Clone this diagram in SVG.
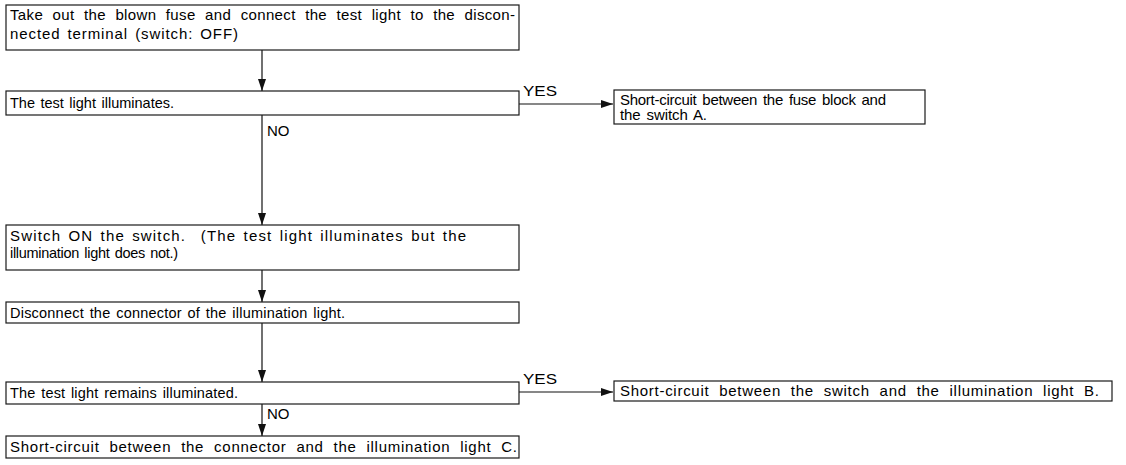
<svg xmlns="http://www.w3.org/2000/svg" width="1126" height="465" viewBox="0 0 1126 465">
<style>
  .box { fill: #ffffff; stroke: #1a1a1a; stroke-width: 1.2; }
  .t { font-family: "Liberation Sans", Arial, Helvetica, sans-serif; font-size: 15px; fill: #000; word-spacing: 2px; }
  .s { font-size: 14.5px; word-spacing: 1.5px; }
  .w { word-spacing: 5px; }
  .pre { white-space: pre; }
  .lbl { font-family: "Liberation Sans", Arial, Helvetica, sans-serif; font-size: 15px; fill: #000; }
  .ln { stroke: #111; stroke-width: 1.2; fill: none; }
</style>
<defs>
  <marker id="ah" viewBox="0 0 12 8" refX="12" refY="4" markerWidth="12" markerHeight="8" markerUnits="userSpaceOnUse" orient="auto">
    <path d="M0,0 L12,4 L0,8 Z" fill="#111"/>
  </marker>
</defs>
<rect width="1126" height="465" fill="#ffffff"/>

<g id="connectors">
  <line class="ln" x1="262" y1="50" x2="262" y2="91" marker-end="url(#ah)"/>
  <line class="ln" x1="519" y1="104" x2="613" y2="104" marker-end="url(#ah)"/>
  <line class="ln" x1="262" y1="115" x2="262" y2="225" marker-end="url(#ah)"/>
  <line class="ln" x1="262" y1="270" x2="262" y2="302" marker-end="url(#ah)"/>
  <line class="ln" x1="262" y1="323" x2="262" y2="382" marker-end="url(#ah)"/>
  <line class="ln" x1="519" y1="392" x2="613" y2="392" marker-end="url(#ah)"/>
  <line class="ln" x1="262" y1="404" x2="262" y2="436" marker-end="url(#ah)"/>
  <text class="lbl" x="523" y="96" textLength="34" lengthAdjust="spacingAndGlyphs">YES</text>
  <text class="lbl" x="267" y="136">NO</text>
  <text class="lbl" x="523" y="384" textLength="34" lengthAdjust="spacingAndGlyphs">YES</text>
  <text class="lbl" x="267" y="419">NO</text>
</g>

<g id="n1">
  <rect class="box" x="6" y="5" width="513" height="45"/>
  <text class="t w" x="10" y="20" textLength="505" lengthAdjust="spacing">Take out the blown fuse and connect the test light to the discon-</text>
  <text class="t" x="10" y="39" textLength="228" lengthAdjust="spacing">nected terminal (switch: OFF)</text>
</g>

<g id="n2">
  <rect class="box" x="6" y="91" width="513" height="24"/>
  <text class="t s" x="10" y="108" textLength="164" lengthAdjust="spacing">The test light illuminates.</text>
</g>

<g id="nA">
  <rect class="box" x="614" y="90" width="311" height="34"/>
  <text class="t" x="620" y="105" textLength="266" lengthAdjust="spacing">Short-circuit between the fuse block and</text>
  <text class="t" x="620" y="120" textLength="87" lengthAdjust="spacing">the switch A.</text>
</g>

<g id="n3">
  <rect class="box" x="6" y="225" width="513" height="45"/>
  <text class="t pre" x="10" y="241" textLength="456" lengthAdjust="spacing">Switch ON the switch.  (The test light illuminates but the</text>
  <text class="t s" x="10" y="258" textLength="168" lengthAdjust="spacing">illumination light does not.)</text>
</g>

<g id="n4">
  <rect class="box" x="6" y="302" width="513" height="21"/>
  <text class="t s" x="10" y="318" textLength="335" lengthAdjust="spacing">Disconnect the connector of the illumination light.</text>
</g>

<g id="n5">
  <rect class="box" x="6" y="382" width="513" height="22"/>
  <text class="t s" x="10" y="398" textLength="228" lengthAdjust="spacing">The test light remains illuminated.</text>
</g>

<g id="nB">
  <rect class="box" x="614" y="381" width="498" height="20"/>
  <text class="t w" x="620" y="396" textLength="479" lengthAdjust="spacing">Short-circuit between the switch and the illumination light B.</text>
</g>

<g id="nC">
  <rect class="box" x="6" y="436" width="513" height="22"/>
  <text class="t w" x="10" y="452" textLength="507" lengthAdjust="spacing">Short-circuit between the connector and the illumination light C.</text>
</g>
</svg>
